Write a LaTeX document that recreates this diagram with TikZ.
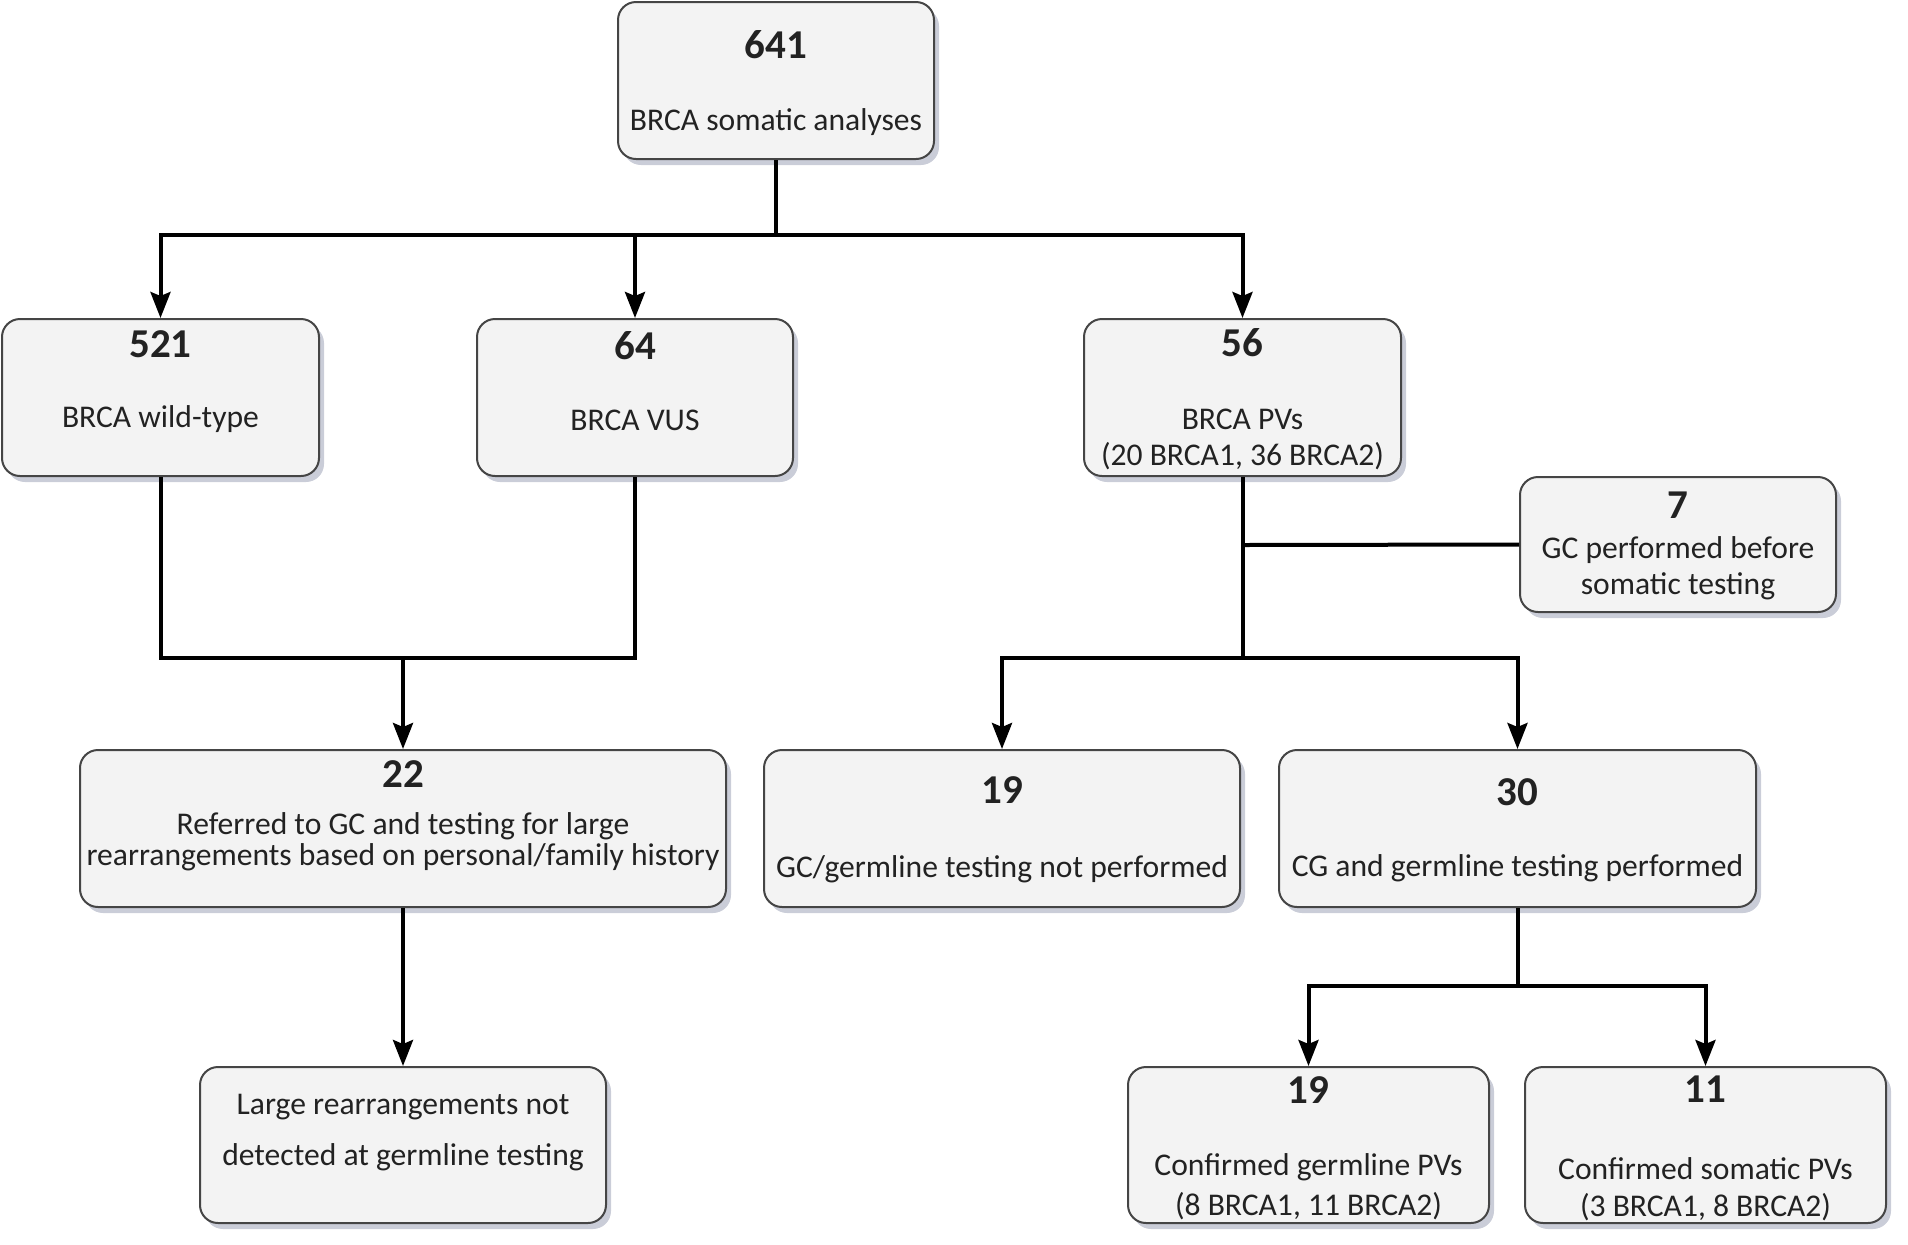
\documentclass[tikz,border=0pt]{standalone}
\usepackage{fontspec}
\setmainfont{Carlito}
\usetikzlibrary{arrows.meta,shadows}
\definecolor{boxfill}{HTML}{F3F3F3}
\definecolor{boxline}{HTML}{454545}
\definecolor{shadowc}{HTML}{8A90A8}
\definecolor{txt}{HTML}{222222}
\tikzset{
  box/.style={draw=boxline, line width=1pt, fill=boxfill, rounded corners=9pt,
    inner sep=0pt, drop shadow={shadow xshift=2.5pt, shadow yshift=-3pt, fill=shadowc, opacity=0.45}},
  num/.style={font=\fontsize{20.5}{23}\selectfont\bfseries, text=txt, inner sep=0pt},
  lbl/.style={font=\fontsize{15.8}{18}\selectfont, text=txt, inner sep=0pt},
  conn/.style={line width=2pt, black},
  arr/.style={conn, -{Stealth[width=10pt,length=13pt,inset=2pt]}}
}
\begin{document}
\begin{tikzpicture}[x=0.5pt,y=-0.5pt]
\useasboundingbox (0,0) rectangle (1908,1244);
% boxes
\node[box, minimum width=158pt, minimum height=78.5pt] (b641) at (776,80.5) {};
\node[box, minimum width=158.5pt, minimum height=78.5pt] (b521) at (160.5,397.5) {};
\node[box, minimum width=158pt, minimum height=78.5pt] (b64) at (635,397.5) {};
\node[box, minimum width=158.5pt, minimum height=78.5pt] (b56) at (1242.5,397.5) {};
\node[box, minimum width=158pt, minimum height=67.5pt] (b7) at (1678,544.5) {};
\node[box, minimum width=323pt, minimum height=78.5pt] (b22) at (403,828.5) {};
\node[box, minimum width=238pt, minimum height=78.5pt] (b19) at (1002,828.5) {};
\node[box, minimum width=238.5pt, minimum height=78.5pt] (b30) at (1517.5,828.5) {};
\node[box, minimum width=203pt, minimum height=78pt] (bL) at (403,1145) {};
\node[box, minimum width=180.5pt, minimum height=78pt] (bc19) at (1308.5,1145) {};
\node[box, minimum width=180.5pt, minimum height=78pt] (bc11) at (1705.5,1145) {};
% texts
\node[num] (t641n) at (776,45) {641};
\node[lbl] (t641t) at (776,122) {BRCA somatic analyses};
\node[num] (t521n) at (160.5,344) {521};
\node[lbl] (t521t) at (160.5,419) {BRCA wild-type};
\node[num] (t64n) at (635,346) {64};
\node[lbl] (t64t) at (635,420) {BRCA VUS};
\node[num] (t56n) at (1242.5,343) {56};
\node[lbl] (t56t) at (1242.5,419) {BRCA PVs};
\node[lbl] (t56u) at (1242.5,456) {(20 BRCA1, 36 BRCA2)};
\node[num] (t7n) at (1678,505) {7};
\node[lbl] (t7t) at (1678,550) {GC performed before};
\node[lbl] (t7u) at (1678,586) {somatic testing};
\node[num] (t22n) at (403,774) {22};
\node[lbl] (t22t) at (403,826) {Referred to GC and testing for large};
\node[lbl] (t22u) at (403,857) {rearrangements based on personal/family history};
\node[num] (t19n) at (1002,790) {19};
\node[lbl] (t19t) at (1002,869) {GC/germline testing not performed};
\node[num] (t30n) at (1517.5,792) {30};
\node[lbl] (t30t) at (1517.5,868) {CG and germline testing performed};
\node[lbl] (tLt) at (403,1107) {Large rearrangements not};
\node[lbl] (tLu) at (403,1157) {detected at germline testing};
\node[num] (tc19n) at (1308.5,1090) {19};
\node[lbl] (tc19t) at (1308.5,1167) {Confirmed germline PVs};
\node[lbl] (tc19u) at (1308.5,1206) {(8 BRCA1, 11 BRCA2)};
\node[num] (tc11n) at (1705.5,1089) {11};
\node[lbl] (tc11t) at (1705.5,1169) {Confirmed somatic PVs};
\node[lbl] (tc11u) at (1705.5,1207) {(3 BRCA1, 8 BRCA2)};
% junctions
\coordinate (j0) at (776,235);
\coordinate (j1) at (403,658);
\coordinate (j2) at (1242.5,545);
\coordinate (j3) at (1242.5,658);
\coordinate (j4) at (1517.5,986);
% connectors
\draw[conn] (b641.south) -- (j0);
\draw[arr] (j0) -| (b521.north);
\draw[arr] (j0) -| (b64.north);
\draw[arr] (j0) -| (b56.north);
\draw[conn] (b521.south) |- (j1);
\draw[conn] (b64.south) |- (j1);
\draw[arr] (j1) -- (b22.north);
\draw[arr] (b22.south) -- (bL.north);
\draw[conn] (b56.south) -- (j3);
\draw[conn] (j2) -- (b7.west);
\draw[arr] (j3) -| (b19.north);
\draw[arr] (j3) -| (b30.north);
\draw[conn] (b30.south) -- (j4);
\draw[arr] (j4) -| (bc19.north);
\draw[arr] (j4) -| (bc11.north);
\end{tikzpicture}
\end{document}
